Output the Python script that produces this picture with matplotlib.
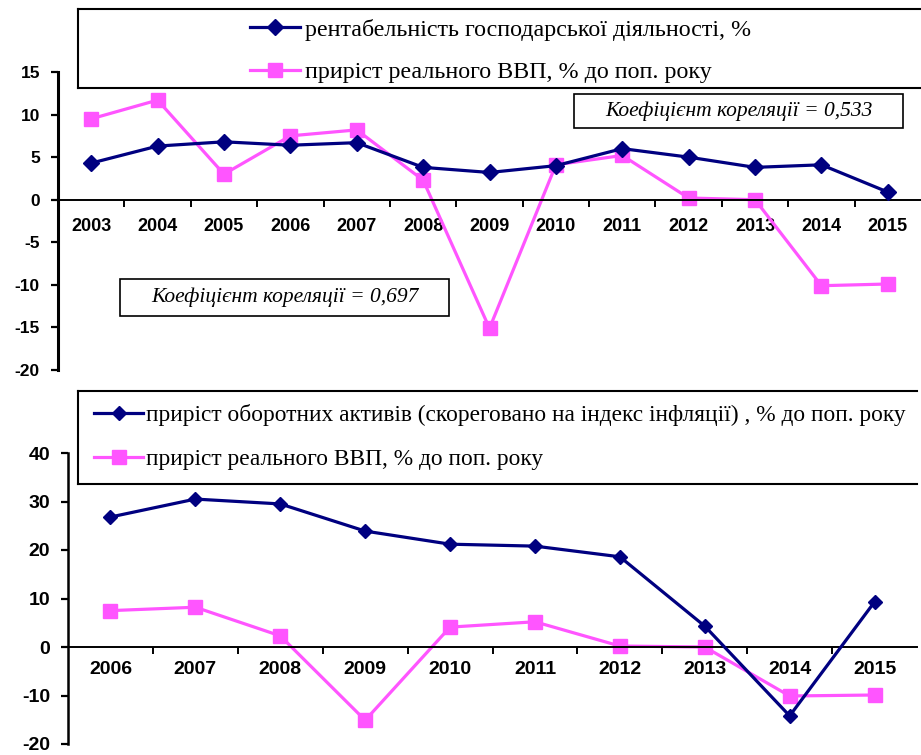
import matplotlib
matplotlib.use("Agg")
import matplotlib.pyplot as plt
from matplotlib.patches import Rectangle
from matplotlib.lines import Line2D

# ---------------- data ----------------
years_top = ['2003', '2004', '2005', '2006', '2007', '2008', '2009',
             '2010', '2011', '2012', '2013', '2014', '2015']
profitability = [4.3, 6.3, 6.8, 6.4, 6.7, 3.8, 3.2, 4.0, 6.0, 5.0, 3.8, 4.1, 0.9]
gdp_growth = [9.5, 11.7, 3.0, 7.5, 8.2, 2.3, -15.1, 4.1, 5.2, 0.2, 0.0, -10.1, -9.9]

years_bottom = ['2006', '2007', '2008', '2009', '2010',
                '2011', '2012', '2013', '2014', '2015']
current_assets = [26.8, 30.5, 29.5, 23.9, 21.2, 20.8, 18.6, 4.3, -14.2, 9.3]
gdp_growth_bottom = [7.5, 8.2, 2.3, -15.1, 4.1, 5.2, 0.2, 0.0, -10.1, -9.9]

label_profit = 'рентабельність господарської діяльності, %'
label_gdp = 'приріст реального ВВП, % до поп. року'
label_assets = 'приріст оборотних активів (скореговано на індекс інфляції) , % до поп. року'
corr_top = 'Коефіцієнт кореляції = 0,533'
corr_bottom = 'Коефіцієнт кореляції = 0,697'

top_yticks = [15, 10, 5, 0, -5, -10, -15, -20]
bottom_yticks = [40, 30, 20, 10, 0, -10, -20]

NAVY = '#000080'
PINK = '#FF55FF'

W, H = 921, 755
fig = plt.figure(figsize=(W / 100, H / 100), dpi=100)


def fx(px):
    return px / W


def fy(py):
    return 1 - py / H


def make_axes(x0, x1, ytop_px, ybot_px, ymax, ymin):
    ax = fig.add_axes([fx(x0), fy(ybot_px), fx(x1) - fx(x0), (ybot_px - ytop_px) / H])
    ax.set_ylim(ymin, ymax)
    return ax


def style_axes(ax, cats, yticks, ylab_size, xlab_size, xpad, lw_left):
    n = len(cats)
    ax.set_xlim(-0.5, n - 0.5)
    ax.spines['top'].set_visible(False)
    ax.spines['right'].set_visible(False)
    ax.spines['bottom'].set_position(('data', 0))
    ax.spines['left'].set_linewidth(lw_left)
    ax.spines['bottom'].set_linewidth(1.4)
    ax.set_xticks([i + 0.5 for i in range(n - 1)])
    ax.set_xticklabels([])
    ax.set_xticks(list(range(n)), minor=True)
    ax.set_xticklabels(cats, minor=True, fontfamily='Liberation Sans',
                       fontweight='bold', fontsize=xlab_size)
    ax.tick_params(axis='x', which='major', direction='out', length=5, width=1.4)
    ax.tick_params(axis='x', which='minor', length=0, pad=xpad)
    ax.set_yticks(yticks)
    ax.set_yticklabels([str(v) for v in yticks], fontfamily='Liberation Sans',
                       fontweight='bold', fontsize=ylab_size)
    ax.tick_params(axis='y', direction='out', length=5, width=1.6, pad=8)
    ax.patch.set_alpha(0)


def frame_lines(x0, x1, y0, y1, right=False):
    segs = [((x0, x0), (y0, y1)), ((x0, x1), (y0, y0)), ((x0, x1), (y1, y1))]
    if right:
        segs.append(((x1, x1), (y0, y1)))
    for xs, ys in segs:
        fig.add_artist(Line2D([fx(xs[0]), fx(xs[1])], [fy(ys[0]), fy(ys[1])],
                              transform=fig.transFigure, color='black', lw=1.5))


def corr_box(x0, x1, y0, y1, text):
    fig.add_artist(Rectangle((fx(x0), fy(y1)), fx(x1) - fx(x0), (y1 - y0) / H,
                             transform=fig.transFigure, fill=False,
                             edgecolor='black', lw=1.2))
    fig.text(fx((x0 + x1) / 2), fy((y0 + y1) / 2), text, ha='center', va='center',
             fontfamily='Liberation Serif', fontstyle='italic', fontsize=15.5)


# ---------------- top chart ----------------
ax1 = make_axes(58, 921, 72, 370, 15, -20)
x_top = list(range(len(years_top)))
l1, = ax1.plot(x_top, profitability, color=NAVY, lw=2.3, marker='D', ms=8.5,
               label=label_profit, zorder=3)
l2, = ax1.plot(x_top, gdp_growth, color=PINK, lw=2.3, marker='s', ms=10.5,
               label=label_gdp, zorder=2)
style_axes(ax1, years_top, top_yticks, 12.5, 13, 13, 2.2)

frame_lines(78, 940, 9, 88)
fig.legend(handles=[l1, l2], loc='center left',
           bbox_to_anchor=(fx(250), fy(51)), bbox_transform=fig.transFigure,
           frameon=False, borderpad=0, borderaxespad=0, handlelength=2.1,
           handletextpad=0.2, labelspacing=0.85,
           prop={'family': 'Liberation Serif', 'size': 17.3})
corr_box(574, 903, 94, 128, corr_top)
corr_box(120, 449, 279, 316, corr_bottom)

# ---------------- bottom chart ----------------
ax2 = make_axes(68, 917, 453, 744, 40, -20)
x_bot = list(range(len(years_bottom)))
m1, = ax2.plot(x_bot, current_assets, color=NAVY, lw=2.3, marker='D', ms=7,
               label=label_assets, zorder=3)
m2, = ax2.plot(x_bot, gdp_growth_bottom, color=PINK, lw=2.3, marker='s', ms=9.5,
               label=label_gdp, zorder=2)
style_axes(ax2, years_bottom, bottom_yticks, 14, 14, 10, 1.8)

frame_lines(78, 917, 391, 484)
fig.legend(handles=[m1, m2], loc='center left',
           bbox_to_anchor=(fx(94), fy(437)), bbox_transform=fig.transFigure,
           frameon=False, borderpad=0, borderaxespad=0, handlelength=2.1,
           handletextpad=0.15, labelspacing=1.0,
           prop={'family': 'Liberation Serif', 'size': 16.8})

fig.savefig('out.png', dpi=100)
